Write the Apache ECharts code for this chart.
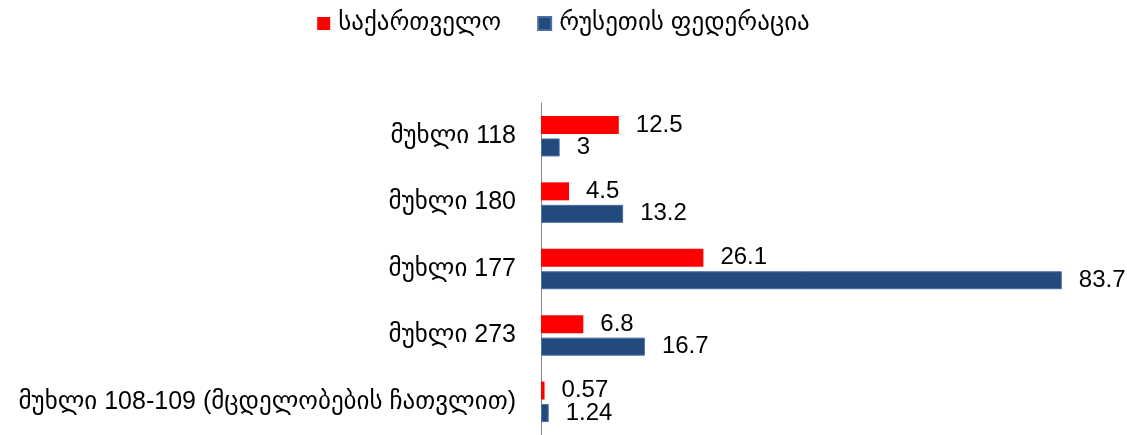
<!DOCTYPE html>
<html>
<head>
<meta charset="utf-8">
<script src="https://cdn.jsdelivr.net/npm/echarts@6/dist/echarts.min.js"></script>
<style>
html, body { margin: 0; padding: 0; background: #fff; }
#chart { width: 1127px; height: 435px; }
</style>
</head>
<body>
<div id="chart"></div>
<script>
var categories = ['მუხლი 118', 'მუხლი 180', 'მუხლი 177', 'მუხლი 273', 'მუხლი 108-109 (მცდელობების ჩათვლით)'];
var seriesNames = ['საქართველო', 'რუსეთის ფედერაცია'];
var georgiaValues = [12.5, 4.5, 26.1, 6.8, 0.57];
var russiaValues = [3, 13.2, 83.7, 16.7, 1.24];

var font = "'Liberation Sans', 'DejaVu Sans', sans-serif";

var myChart = echarts.init(document.getElementById('chart'));

var option = {
	animation: false,
	textStyle: { fontFamily: font },
	legend: {
		top: 6,
		left: 'center',
		itemWidth: 13,
		itemHeight: 13,
		itemGap: 36,
		icon: 'rect',
		textStyle: { fontSize: 25, color: '#000', fontFamily: font, padding: [0, 0, 0, 3] },
		data: seriesNames
	},
	grid: {
		left: 541,
		right: 26,
		top: 103,
		bottom: -7,
		containLabel: false
	},
	xAxis: {
		type: 'value',
		min: 0,
		max: 90,
		show: false
	},
	yAxis: {
		type: 'category',
		inverse: true,
		data: categories,
		axisLine: { show: true, lineStyle: { color: '#868686', width: 1 } },
		axisTick: { show: false },
		axisLabel: { margin: 25, fontSize: 25, color: '#000', fontFamily: font }
	},
	series: [{
		name: seriesNames[0],
		type: 'bar',
		data: georgiaValues,
		barWidth: 18,
		barGap: '25%',
		itemStyle: { color: '#ff0000' },
		label: { show: true, position: 'right', distance: 17, fontSize: 24, color: '#000', fontFamily: font }
	}, {
		name: seriesNames[1],
		type: 'bar',
		data: russiaValues,
		barWidth: 18,
		barGap: '25%',
		itemStyle: { color: '#234a7c', borderColor: '#4a6fa0', borderWidth: 1 },
		label: { show: true, position: 'right', distance: 17, fontSize: 24, color: '#000', fontFamily: font }
	}]
};

myChart.setOption(option);
</script>
</body>
</html>
